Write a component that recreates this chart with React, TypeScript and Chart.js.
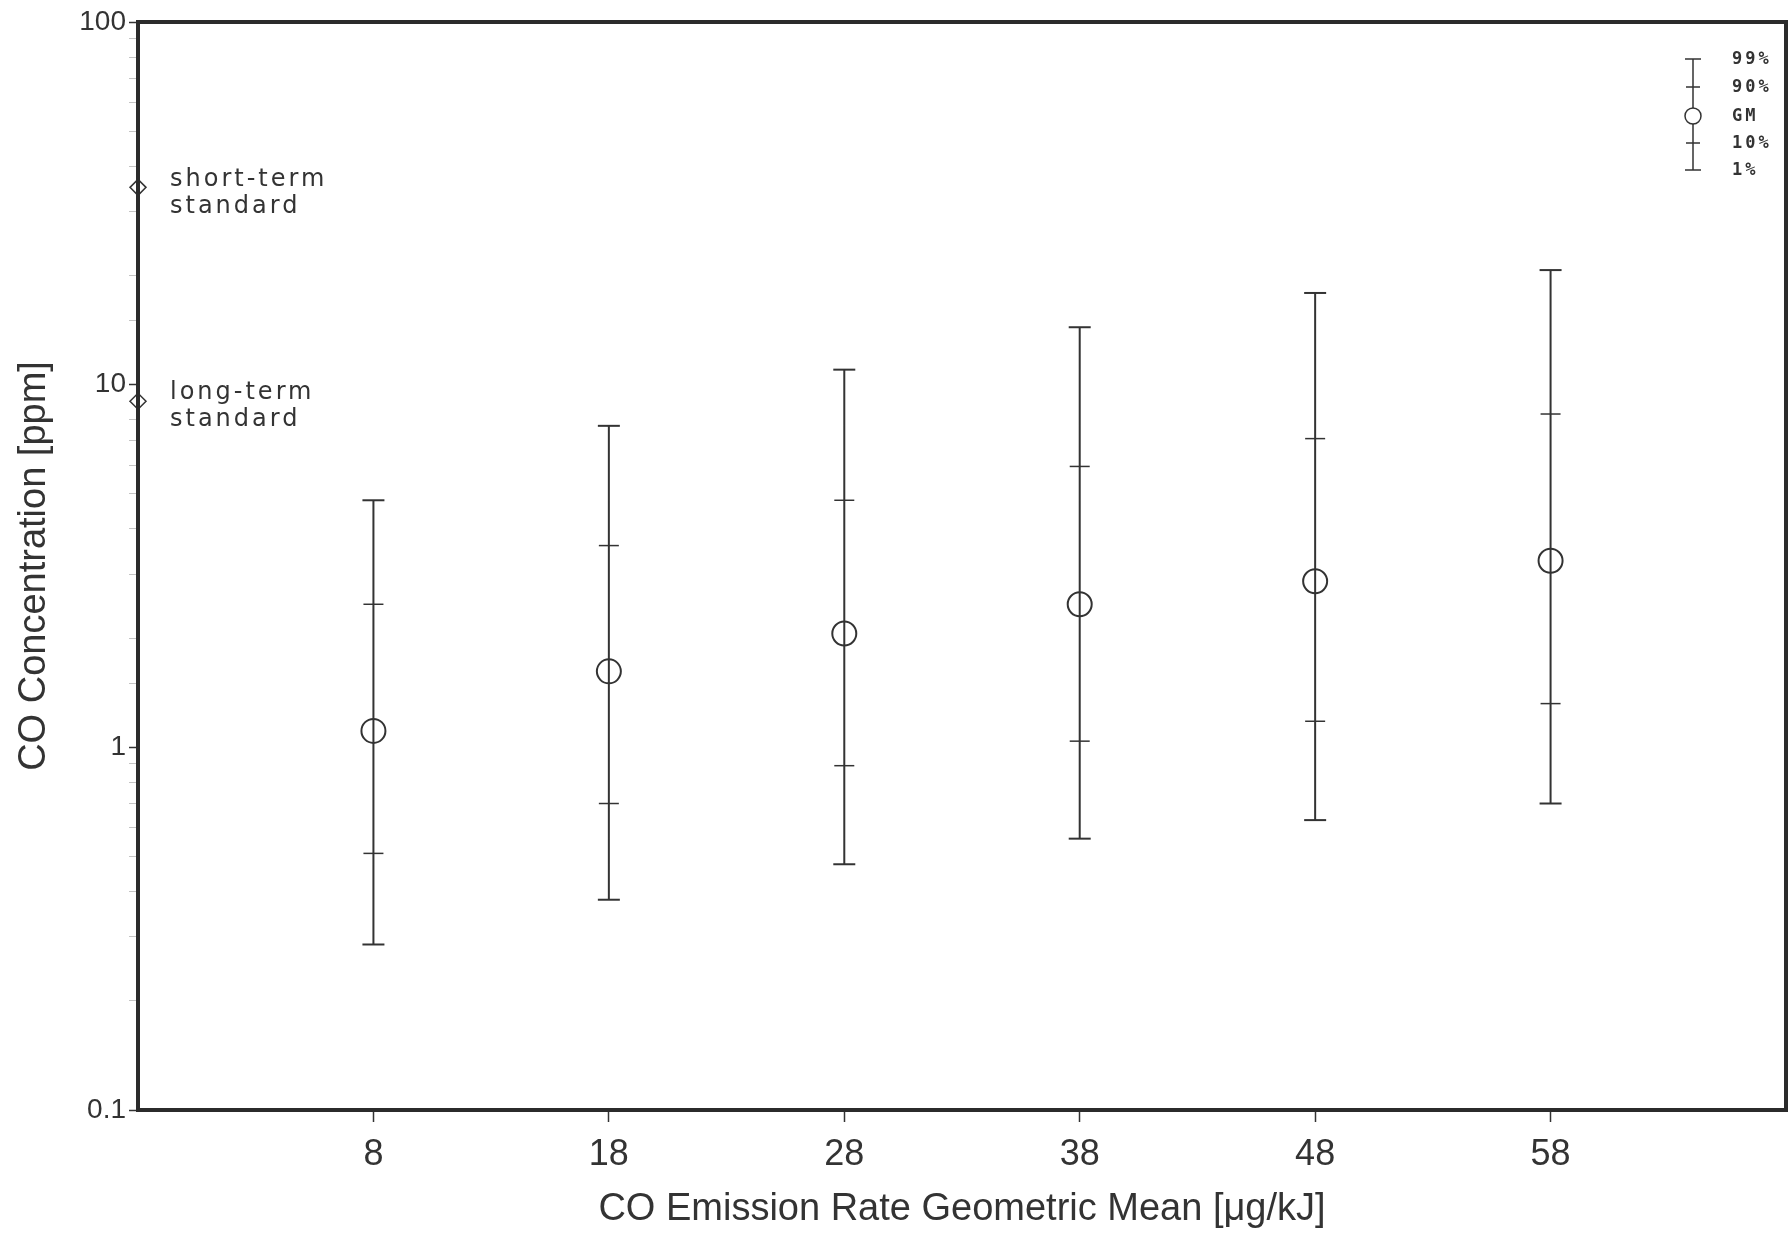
import React, { useEffect, useRef } from "react";
import { Chart, registerables } from "chart.js";

Chart.register(...registerables);

// ---- data ----
const emissionRates = [8, 18, 28, 38, 48, 58];
const p99 = [4.8, 7.7, 11.0, 14.4, 17.9, 20.7];
const p90 = [2.48, 3.6, 4.8, 5.95, 7.1, 8.3];
const gm = [1.11, 1.62, 2.06, 2.48, 2.87, 3.27];
const p10 = [0.51, 0.7, 0.89, 1.04, 1.18, 1.32];
const p1 = [0.286, 0.38, 0.476, 0.56, 0.63, 0.7];
const standardLabels = [["short-term", "standard"], ["long-term", "standard"]];
const standardValues = [35, 9];
const legendLabels = ["99%", "90%", "GM", "10%", "1%"];
const yTickLabels = [0.1, 1, 10, 100];
const xTitle = "CO Emission Rate Geometric Mean [\u03bcg/kJ]";
const yTitle = "CO Concentration [ppm]";

const INK = "#333333";
const SANS = "'Liberation Sans', sans-serif";
const MONO = "'DejaVu Sans Mono', monospace";

export default function App() {
  const ref = useRef<HTMLCanvasElement | null>(null);

  useEffect(() => {
    if (!ref.current) return;
    const whisker: any[] = [];
    emissionRates.forEach((x, i) => {
      whisker.push({ x, y: p1[i] }, { x, y: p99[i] }, { x, y: null });
    });
    const caps: any[] = [];
    emissionRates.forEach((x, i) => caps.push({ x, y: p99[i] }, { x, y: p1[i] }));
    const mids: any[] = [];
    emissionRates.forEach((x, i) => mids.push({ x, y: p90[i] }, { x, y: p10[i] }));
    const centers = emissionRates.map((x, i) => ({ x, y: gm[i] }));
    const XMIN = -2;
    const stds = standardValues.map((v) => ({ x: XMIN, y: v }));

    const overlay = {
      id: "overlay",
      afterDatasetsDraw(chart: any) {
        const { ctx, chartArea: a, scales } = chart;
        const ys = scales.y;
        ctx.save();
        // frame
        ctx.strokeStyle = "#2b2b2b";
        ctx.lineWidth = 4;
        ctx.strokeRect(a.left, a.top, a.right - a.left, a.bottom - a.top);
        // standards text
        ctx.fillStyle = INK;
        ctx.font = `24px 'DejaVu Sans', sans-serif`;
        (ctx as any).letterSpacing = "3px";
        ctx.textBaseline = "middle";
        ctx.textAlign = "left";
        standardValues.forEach((v, i) => {
          const py = ys.getPixelForValue(v);
          ctx.fillText(standardLabels[i][0], a.left + 32, py - 8);
          ctx.fillText(standardLabels[i][1], a.left + 32, py + 19);
        });
        // legend key
        const bx = a.right - 93;
        const ly = [a.top + 37, a.top + 65, a.top + 94, a.top + 121, a.top + 148];
        ctx.strokeStyle = INK;
        ctx.lineWidth = 1.5;
        ctx.beginPath();
        ctx.moveTo(bx, ly[0]);
        ctx.lineTo(bx, ly[4]);
        ctx.moveTo(bx - 8, ly[0]);
        ctx.lineTo(bx + 8, ly[0]);
        ctx.moveTo(bx - 7, ly[1]);
        ctx.lineTo(bx + 7, ly[1]);
        ctx.moveTo(bx - 7, ly[3]);
        ctx.lineTo(bx + 7, ly[3]);
        ctx.moveTo(bx - 8, ly[4]);
        ctx.lineTo(bx + 8, ly[4]);
        ctx.stroke();
        ctx.beginPath();
        ctx.arc(bx, ly[2], 8, 0, Math.PI * 2);
        ctx.fillStyle = "#ffffff";
        ctx.fill();
        ctx.stroke();
        ctx.fillStyle = INK;
        ctx.font = `bold 17px ${MONO}`;
        (ctx as any).letterSpacing = "3px";
        legendLabels.forEach((t, i) => ctx.fillText(t, bx + 39, ly[i] + 1));
        ctx.restore();
      },
    };

    const chart = new Chart(ref.current, {
      type: "scatter",
      data: {
        datasets: [
          {
            type: "line",
            data: whisker,
            borderColor: INK,
            borderWidth: 2,
            pointRadius: 0,
            spanGaps: false,
            fill: false,
          } as any,
          {
            data: caps,
            pointStyle: "line",
            pointRadius: 11,
            borderColor: INK,
            borderWidth: 2,
          },
          {
            data: mids,
            pointStyle: "line",
            pointRadius: 10,
            borderColor: INK,
            borderWidth: 1.5,
          },
          {
            data: centers,
            pointStyle: "circle",
            pointRadius: 12,
            backgroundColor: "#ffffff",
            borderColor: INK,
            borderWidth: 2,
          },
          {
            data: stds,
            pointStyle: "rectRot",
            pointRadius: 8,
            backgroundColor: "#ffffff",
            borderColor: INK,
            borderWidth: 1.5,
            clip: false,
          } as any,
        ],
      },
      options: {
        animation: false,
        responsive: false,
        devicePixelRatio: 1,
        layout: { padding: { left: 0, top: 22, right: 0, bottom: 0 } },
        plugins: { legend: { display: false }, tooltip: { enabled: false } },
        scales: {
          x: {
            type: "linear",
            min: XMIN,
            max: 68,
            afterBuildTicks: (s: any) => {
              s.ticks = emissionRates.map((v) => ({ value: v }));
            },
            afterFit: (s: any) => {
              s.height = 127;
            },
            border: { display: false },
            grid: { drawOnChartArea: false, tickLength: 12, tickColor: INK, tickWidth: 1.5 },
            ticks: {
              color: INK,
              padding: 11,
              font: { family: SANS, size: 36 },
              maxRotation: 0,
              autoSkip: false,
            },
            title: {
              display: true,
              text: xTitle,
              color: INK,
              font: { family: SANS, size: 38 },
              padding: { top: 0, bottom: 5 },
            },
          },
          y: {
            type: "logarithmic",
            min: 0.1,
            max: 100,
            afterFit: (s: any) => {
              s.width = 138;
            },
            border: { display: false },
            grid: {
              drawOnChartArea: false,
              tickLength: 9,
              tickColor: (c: any) =>
                yTickLabels.includes(Number(c.tick?.value?.toPrecision(3))) ? INK : "#c4c4c4",
              tickWidth: (c: any) =>
                yTickLabels.includes(Number(c.tick?.value?.toPrecision(3))) ? 1.5 : 1,
            },
            ticks: {
              color: INK,
              padding: 3,
              font: { family: SANS, size: 28 },
              autoSkip: false,
              callback: (v: any) => {
                const n = Number(Number(v).toPrecision(3));
                return yTickLabels.includes(n) ? String(n) : "";
              },
            },
            title: {
              display: true,
              text: yTitle,
              color: INK,
              font: { family: SANS, size: 38 },
              padding: { top: 12, bottom: 0 },
            },
          },
        },
      },
      plugins: [overlay],
    } as any);
    return () => chart.destroy();
  }, []);

  return (
    <div
      style={{
        position: "fixed",
        left: 0,
        top: 0,
        width: 1788,
        height: 1237,
        overflow: "hidden",
        background: "#fff",
      }}
    >
      <canvas ref={ref} width={1800} height={1237} style={{ display: "block" }} />
    </div>
  );
}
